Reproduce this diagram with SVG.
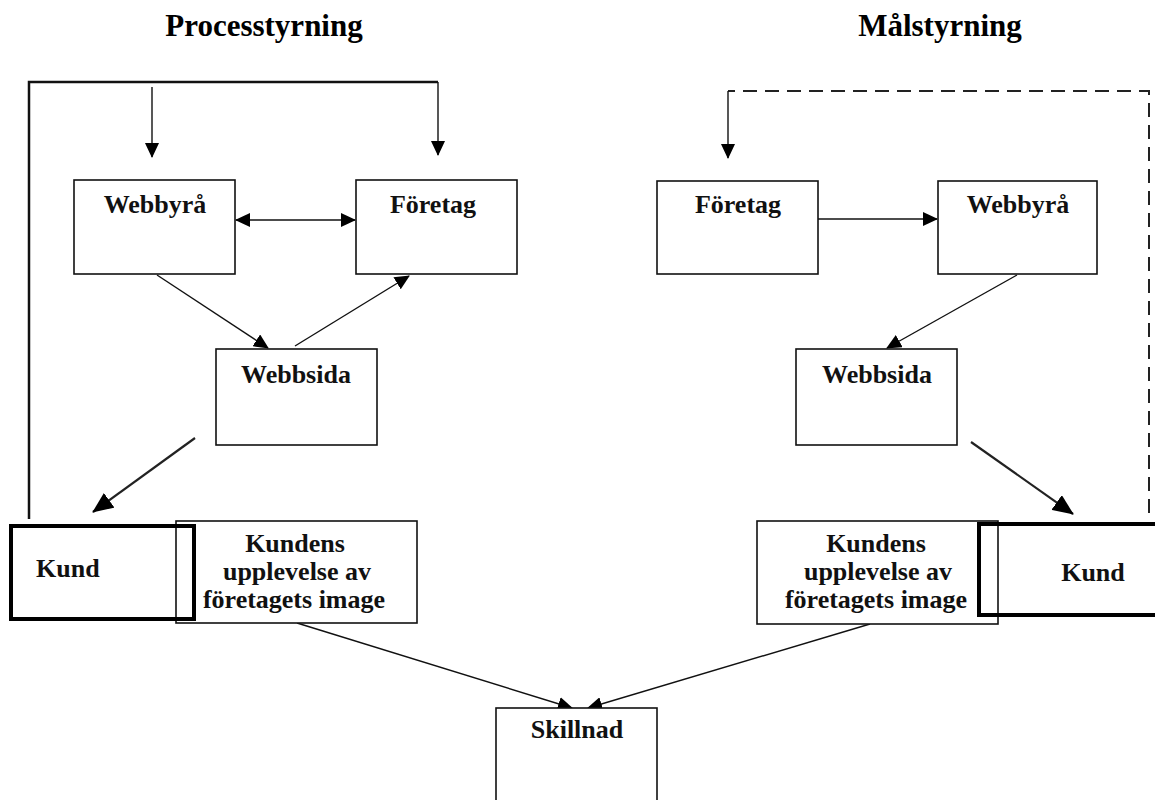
<svg xmlns="http://www.w3.org/2000/svg" width="1155" height="800" viewBox="0 0 1155 800">
<style>
.box{fill:#fff;stroke:#111;stroke-width:1.6}
.thick{fill:none;stroke:#000;stroke-width:4}
.t{font-family:"Liberation Serif","Times New Roman",serif;font-weight:bold;font-size:26px;fill:#111;text-anchor:middle}
.title{font-family:"Liberation Serif","Times New Roman",serif;font-weight:bold;font-size:31px;fill:#000;text-anchor:middle}
.ln{fill:none;stroke:#111;stroke-width:1.4}
.ln2{fill:none;stroke:#222;stroke-width:2.2}
</style>
<defs>
<marker id="ah" markerUnits="userSpaceOnUse" markerWidth="16" markerHeight="14" refX="14" refY="7" orient="auto">
<path d="M0,0 L15,7 L0,14 Z" fill="#000"/>
</marker>
<marker id="ahs" markerUnits="userSpaceOnUse" markerWidth="16" markerHeight="14" refX="1" refY="7" orient="auto">
<path d="M15,0 L0,7 L15,14 Z" fill="#000"/>
</marker>
<marker id="ahb" markerUnits="userSpaceOnUse" markerWidth="22" markerHeight="18" refX="20" refY="9" orient="auto">
<path d="M0,0 L21,9 L0,18 Z" fill="#000"/>
</marker>
</defs>
<rect width="1155" height="800" fill="#fff"/>
<text class="title" x="264" y="36">Processtyrning</text>
<text class="title" x="940" y="36">Målstyrning</text>

<g id="connectors">
<polyline points="29,519 29,82 438,82" fill="none" stroke="#111" stroke-width="2.5"/>
<line class="ln" x1="152" y1="87" x2="152" y2="157" marker-end="url(#ah)"/>
<line class="ln" x1="438" y1="82" x2="438" y2="155" marker-end="url(#ah)"/>
<line class="ln" x1="236" y1="220" x2="355" y2="220" marker-start="url(#ahs)" marker-end="url(#ah)"/>
<line class="ln" x1="157" y1="275" x2="268" y2="348" marker-end="url(#ah)"/>
<line class="ln" x1="295" y1="346" x2="409" y2="276" marker-end="url(#ah)"/>
<line class="ln2" x1="195" y1="438" x2="93" y2="512" marker-end="url(#ahb)"/>
<polyline points="1149,513 1149,91 728,91" fill="none" stroke="#222" stroke-width="2" stroke-dasharray="14,8"/>
<line class="ln" x1="728" y1="91" x2="728" y2="158" marker-end="url(#ah)"/>
<line class="ln" x1="818" y1="219" x2="937" y2="219" marker-end="url(#ah)"/>
<line class="ln" x1="1017" y1="275" x2="887" y2="348" marker-end="url(#ah)"/>
<line class="ln2" x1="971" y1="442" x2="1073" y2="514" marker-end="url(#ahb)"/>
<line class="ln" x1="297" y1="623" x2="572" y2="708" marker-end="url(#ah)"/>
<line class="ln" x1="870" y1="624" x2="588" y2="708" marker-end="url(#ah)"/>
</g>

<g id="webbyra-l"><rect class="box" x="74" y="180" width="161" height="94"/><text class="t" x="155" y="213">Webbyrå</text></g>
<g id="foretag-l"><rect class="box" x="356" y="180" width="161" height="94"/><text class="t" x="433" y="213">Företag</text></g>
<g id="webbsida-l"><rect class="box" x="216" y="349" width="161" height="96"/><text class="t" x="296" y="383">Webbsida</text></g>
<g id="kundens-l"><rect class="box" x="176" y="521" width="241" height="102"/>
<text class="t" x="295" y="552">Kundens</text><text class="t" x="297" y="580">upplevelse av</text><text class="t" x="294" y="608">företagets image</text></g>
<g id="kund-l"><rect class="thick" x="11" y="526" width="183" height="93"/><text class="t" x="36" y="577" style="text-anchor:start">Kund</text></g>

<g id="foretag-r"><rect class="box" x="657" y="181" width="161" height="93"/><text class="t" x="738" y="213">Företag</text></g>
<g id="webbyra-r"><rect class="box" x="938" y="181" width="159" height="93"/><text class="t" x="1018" y="213">Webbyrå</text></g>
<g id="webbsida-r"><rect class="box" x="796" y="349" width="161" height="96"/><text class="t" x="877" y="383">Webbsida</text></g>
<g id="kundens-r"><rect class="box" x="757" y="521" width="241" height="103"/>
<text class="t" x="876" y="552">Kundens</text><text class="t" x="878" y="580">upplevelse av</text><text class="t" x="876" y="608">företagets image</text></g>
<g id="kund-r"><rect class="thick" x="979" y="524" width="190" height="91"/><text class="t" x="1093" y="581">Kund</text></g>

<g id="skillnad"><rect class="box" x="496" y="708" width="161" height="120"/><text class="t" x="577" y="738">Skillnad</text></g>
</svg>
